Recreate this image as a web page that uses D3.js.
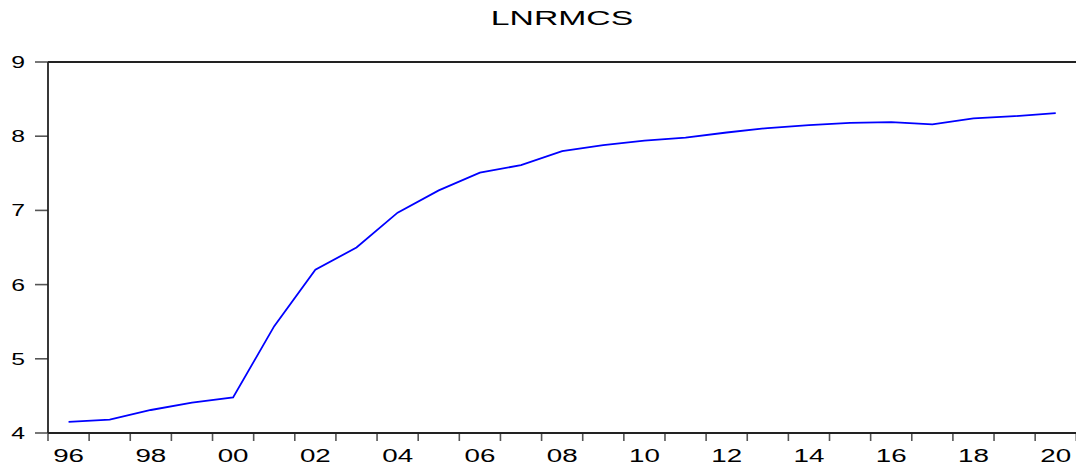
<!DOCTYPE html>
<html>
<head>
<meta charset="utf-8">
<script src="https://cdn.jsdelivr.net/npm/d3@7"></script>
<style>
  html, body { margin: 0; padding: 0; background: #fff; }
  svg { display: block; }
  text { font-family: "Liberation Sans", Arial, sans-serif; fill: #000; }
</style>
</head>
<body>
<svg id="chart" width="1076" height="465"></svg>
<script>
const title = "LNRMCS";
const years = [1996,1997,1998,1999,2000,2001,2002,2003,2004,2005,2006,2007,2008,
               2009,2010,2011,2012,2013,2014,2015,2016,2017,2018,2019,2020];
const values = [4.15,4.18,4.31,4.41,4.48,5.44,6.20,6.50,6.97,7.27,7.51,7.61,7.80,
                7.88,7.94,7.98,8.05,8.11,8.15,8.18,8.19,8.16,8.24,8.27,8.31];
const yTicks = [4,5,6,7,8,9];
const xLabelYears = [1996,1998,2000,2002,2004,2006,2008,2010,2012,2014,2016,2018,2020];

const svg = d3.select("#chart");
const mLeft = 48, mRight = 1076.3, mTop = 62, mBottom = 433;

const x = d3.scaleLinear().domain([1996, 2021]).range([mLeft, mRight]);
const y = d3.scaleLinear().domain([4, 9]).range([mBottom, mTop]);

// Title
svg.append("text")
  .attr("transform", `translate(562,25) scale(1.73,1)`)
  .attr("text-anchor", "middle")
  .style("font-size", "19.5px")
  .text(title);

// Y ticks
svg.selectAll(".ytick").data(yTicks).enter().append("line")
  .attr("x1", 35).attr("x2", mLeft)
  .attr("y1", d => y(d)).attr("y2", d => y(d))
  .attr("stroke", "#555").attr("stroke-width", 1.6);

svg.selectAll(".ylab").data(yTicks).enter().append("text")
  .attr("transform", d => `translate(25,${y(d) + 6}) scale(1.5,1)`)
  .attr("text-anchor", "end")
  .style("font-size", "16.5px")
  .text(d => d);

// X ticks at year boundaries
const xTickVals = d3.range(1996, 2022);
svg.selectAll(".xtick").data(xTickVals).enter().append("line")
  .attr("x1", d => x(d)).attr("x2", d => x(d))
  .attr("y1", mBottom).attr("y2", mBottom + 8)
  .attr("stroke", "#555").attr("stroke-width", 1.6);

svg.selectAll(".xlab").data(xLabelYears).enter().append("text")
  .attr("transform", d => `translate(${x(d + 0.5)},462) scale(1.5,1)`)
  .attr("text-anchor", "middle")
  .style("font-size", "18.5px")
  .text(d => String(d % 100).padStart(2, "0"));

// Frame lines
svg.append("line").attr("x1", mLeft).attr("x2", 1076).attr("y1", mTop).attr("y2", mTop)
  .attr("stroke", "#222").attr("stroke-width", 1.8);
svg.append("line").attr("x1", mLeft).attr("x2", 1076).attr("y1", mBottom).attr("y2", mBottom)
  .attr("stroke", "#222").attr("stroke-width", 1.8);
svg.append("line").attr("x1", mLeft).attr("x2", mLeft).attr("y1", mTop).attr("y2", mBottom)
  .attr("stroke", "#222").attr("stroke-width", 1.8);

// Series line
const line = d3.line()
  .x((d, i) => x(years[i] + 0.5))
  .y(d => y(d));
svg.append("path")
  .datum(values)
  .attr("d", line)
  .attr("fill", "none")
  .attr("stroke", "#0000ff")
  .attr("stroke-width", 1.8);
</script>
</body>
</html>
